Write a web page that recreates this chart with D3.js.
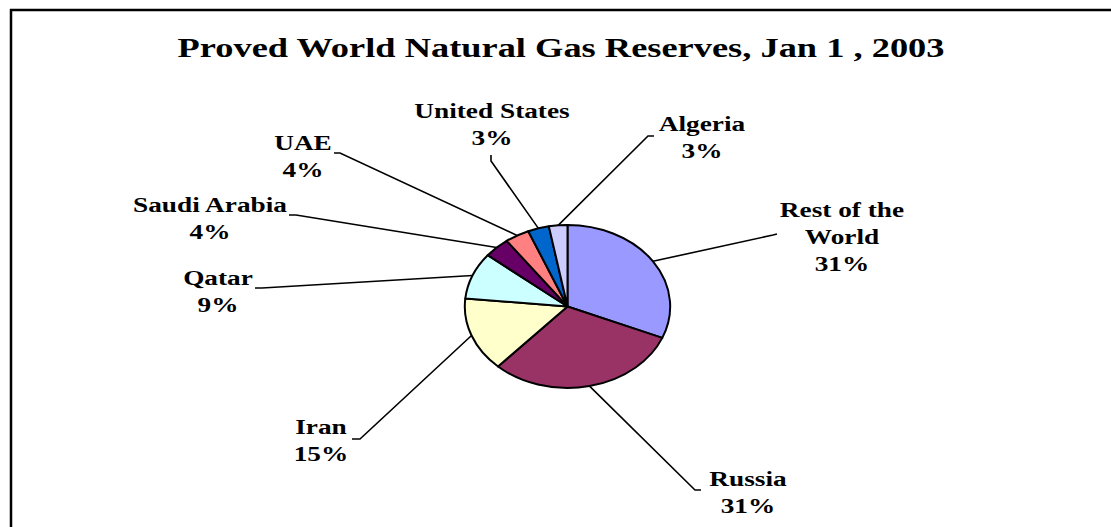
<!DOCTYPE html>
<html>
<head>
<meta charset="utf-8">
<script src="https://cdn.jsdelivr.net/npm/d3@7"></script>
<style>
  body { margin: 0; background: #fff; }
  text { font-family: "Liberation Serif", "Times New Roman", serif; font-weight: bold; fill: #000; }
</style>
</head>
<body>
<div id="chart"></div>
<script>
// proved reserves, trillion cubic feet
var countries = ["Rest of the World", "Russia", "Iran", "Qatar", "Saudi Arabia", "UAE", "United States", "Algeria"];
var labelText = [["Rest of the", "World"], ["Russia"], ["Iran"], ["Qatar"], ["Saudi Arabia"], ["UAE"], ["United States"], ["Algeria"]];
var reserves = [1721, 1680, 812, 509, 224, 212, 183, 160];
var sliceColors = ["#9999ff", "#993366", "#ffffcc", "#ccffff", "#660066", "#ff8080", "#0066cc", "#ccccff"];

var titleText = "Proved World Natural Gas Reserves, Jan 1 , 2003";

// label layout: centre x, first baseline, where the leader ends (elbow) and the short tick end
var labelPos = [
    {x: 842, y: 217, ex: 773, ey: 235, tx: 777, ty: 234},
    {x: 748, y: 486, ex: 695, ey: 490, tx: 701, ty: 490},
    {x: 321, y: 434, ex: 360, ey: 439, tx: 352, ty: 439},
    {x: 218, y: 285, ex: 262, ey: 288, tx: 255, ty: 288},
    {x: 210, y: 212, ex: 296, ey: 215, tx: 289, ty: 215},
    {x: 303, y: 150, ex: 340, ey: 153, tx: 334, ty: 153},
    {x: 492, y: 118, ex: 491, ey: 161, tx: 491, ty: 155},
    {x: 702, y: 131, ex: 648, ey: 136, tx: 654, ty: 136}
];

var W = 1111, H = 527;
var cx = 567.5, cy = 306.5, r = 81.5, kx = 1.26;  // pie is stretched sideways
var textK = 1.3;
var lineGap = 27;

var data = countries.map(function (c, i) {
    return {name: c, value: reserves[i], color: sliceColors[i], lines: labelText[i], pos: labelPos[i]};
});
var total = d3.sum(reserves);
var fmt = d3.format(".0%");

var svg = d3.select("#chart").append("svg")
    .attr("width", W)
    .attr("height", H);

// chart frame (only top and left edges visible)
svg.append("line").attr("x1", 10).attr("y1", 10).attr("x2", W).attr("y2", 10)
    .attr("stroke", "#000").attr("stroke-width", 2.5);
svg.append("line").attr("x1", 11).attr("y1", 9).attr("x2", 11).attr("y2", H)
    .attr("stroke", "#000").attr("stroke-width", 2.5);

svg.append("text")
    .attr("transform", "translate(561,57) scale(" + textK + ",1)")
    .attr("text-anchor", "middle")
    .style("font-size", "28px")
    .text(titleText);

var pie = d3.pie().sort(null).value(function (d) { return d.value; });
var arcs = pie(data);

var arc = d3.arc().innerRadius(0).outerRadius(r);
var edge = d3.arc().innerRadius(r).outerRadius(r);

var pieG = svg.append("g")
    .attr("transform", "translate(" + cx + "," + cy + ") scale(" + kx + ",1)");

pieG.selectAll("path")
    .data(arcs)
    .enter().append("path")
    .attr("d", arc)
    .attr("fill", function (d) { return d.data.color; })
    .attr("stroke", "#000")
    .attr("stroke-width", 2)
    .attr("vector-effect", "non-scaling-stroke")
    .attr("stroke-linejoin", "round");

// leader lines
svg.selectAll(".leader")
    .data(arcs)
    .enter().append("polyline")
    .attr("class", "leader")
    .attr("fill", "none")
    .attr("stroke", "#000")
    .attr("stroke-width", 1.6)
    .attr("points", function (d) {
        var c = edge.centroid(d);
        var p = d.data.pos;
        return [[cx + c[0] * kx, cy + c[1]], [p.ex, p.ey], [p.tx, p.ty]].join(" ");
    });

var labels = svg.selectAll(".lbl")
    .data(arcs)
    .enter().append("text")
    .attr("class", "lbl")
    .attr("text-anchor", "middle")
    .style("font-size", "21px")
    .attr("transform", function (d) {
        return "translate(" + d.data.pos.x + "," + d.data.pos.y + ") scale(" + textK + ",1)";
    });

labels.each(function (d) {
    var t = d3.select(this);
    var lines = d.data.lines.concat([fmt(d.data.value / total)]);
    lines.forEach(function (s, i) {
        t.append("tspan").attr("x", 0).attr("dy", i === 0 ? 0 : lineGap).text(s);
    });
});
</script>
</body>
</html>
